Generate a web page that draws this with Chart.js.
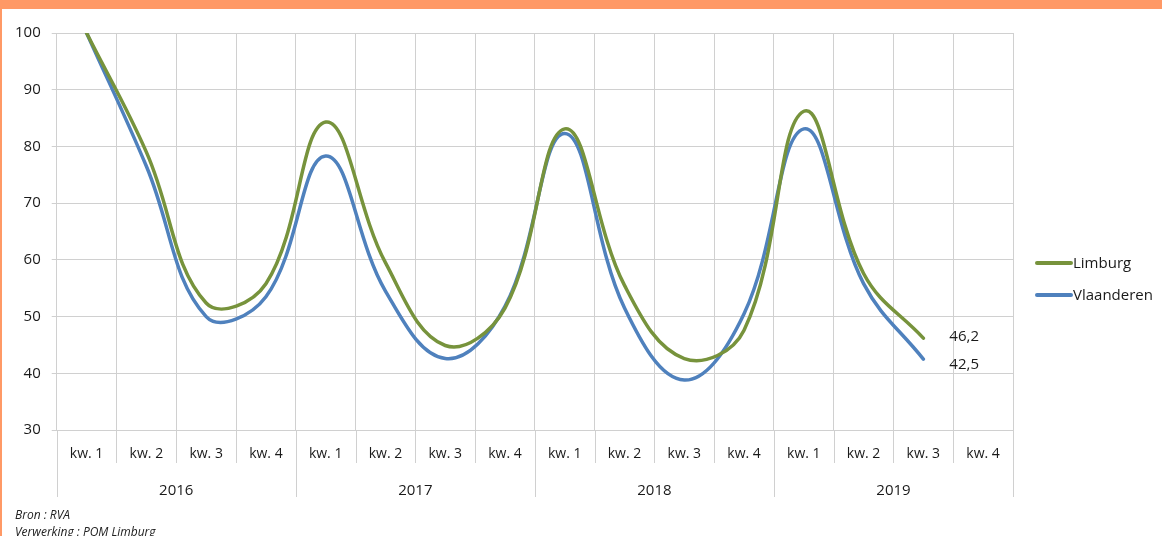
<!DOCTYPE html>
<html>
<head>
<meta charset="utf-8">
<script src="https://cdn.jsdelivr.net/npm/chart.js@4.4.1/dist/chart.umd.min.js"></script>
<style>
  html, body { margin: 0; padding: 0; background: #fff; }
  #frame {
    position: absolute; left: 0; top: 0; width: 1160px; height: 527px;
    border-top: 9px solid #ff9966; border-left: 2px solid #ff9966;
  }
  #wrap { position: absolute; left: 0; top: 0; width: 1160px; height: 527px; }
  .note {
    position: absolute; left: 13px; font-family: "Open Sans", sans-serif;
    font-style: italic; font-size: 12px; line-height: 16px; color: #222;
  }
</style>
</head>
<body>
<div id="frame">
  <div id="wrap"><canvas id="lineChart"></canvas></div>
  <div class="note" style="top:498px">Bron : RVA</div>
  <div class="note" style="top:515px">Verwerking : POM Limburg</div>
</div>
<script>
const quarters = ['kw. 1', 'kw. 2', 'kw. 3', 'kw. 4',
                  'kw. 1', 'kw. 2', 'kw. 3', 'kw. 4',
                  'kw. 1', 'kw. 2', 'kw. 3', 'kw. 4',
                  'kw. 1', 'kw. 2', 'kw. 3', 'kw. 4'];
const years = ['2016', '2017', '2018', '2019'];
const limburg = [100, 79, 52.4, 55.8, 84.3, 59.5, 44.9, 51.5, 83.1, 55.5, 42.6, 47.6, 86.2, 57.6, 46.2, null];
const vlaanderen = [100, 76.5, 50, 53.5, 78.3, 54.5, 42.6, 51.8, 82.3, 51.5, 38.8, 50.5, 83.1, 55.8, 42.5, null];

const textColor = '#1a1a1a';
const gridColor = '#d0d0d0';
const fontFamily = '"Open Sans", sans-serif';

// separators under the x axis (quarter boxes and year boxes)
const separators = {
    id: 'separators',
    afterDraw(chart) {
        const ctx = chart.ctx;
        const x = chart.scales.x;
        const x2 = chart.scales.x2;
        const step = x.getPixelForValue(1) - x.getPixelForValue(0);
        ctx.save();
        ctx.strokeStyle = gridColor;
        ctx.lineWidth = 1;
        for (let i = 0; i <= quarters.length; i++) {
            const px = Math.round(x.getPixelForValue(0) - step / 2 + i * step) + 0.5;
            ctx.beginPath();
            ctx.moveTo(px, chart.chartArea.bottom);
            ctx.lineTo(px, i % 4 === 0 ? x2.bottom : x.bottom);
            ctx.stroke();
        }
        ctx.restore();
    }
};

// value labels next to the last point + legend on the right
const extras = {
    id: 'extras',
    afterDatasetsDraw(chart) {
        const ctx = chart.ctx;
        ctx.save();
        ctx.font = '15px ' + fontFamily;
        ctx.fillStyle = textColor;
        ctx.textBaseline = 'middle';
        const offsets = [-1, 6];
        chart.data.datasets.forEach((ds, i) => {
            const meta = chart.getDatasetMeta(i);
            let last = ds.data.length - 1;
            while (ds.data[last] == null) last--;
            const pt = meta.data[last];
            ctx.fillText(String(ds.data[last]).replace('.', ','), pt.x + 26, pt.y + offsets[i]);
        });
        // legend
        const lx = chart.chartArea.right + 22;
        const ly = 254;
        chart.data.datasets.forEach((ds, i) => {
            const y = ly + i * 32;
            ctx.strokeStyle = ds.borderColor;
            ctx.lineWidth = 4;
            ctx.lineCap = 'round';
            ctx.beginPath();
            ctx.moveTo(lx + 2, y);
            ctx.lineTo(lx + 36, y);
            ctx.stroke();
            ctx.fillText(ds.label, lx + 38, y + 1);
        });
        ctx.restore();
    }
};

const ctx = document.getElementById('lineChart').getContext('2d');
const myChart = new Chart(ctx, {
    type: 'line',
    data: {
        labels: quarters,
        datasets: [{
            label: 'Limburg',
            data: limburg,
            borderColor: '#77933c',
            backgroundColor: '#77933c',
            borderWidth: 3.5,
            borderCapStyle: 'round',
            pointRadius: 0,
            tension: 0.4
        }, {
            label: 'Vlaanderen',
            data: vlaanderen,
            borderColor: '#4f81bd',
            backgroundColor: '#4f81bd',
            borderWidth: 3.5,
            borderCapStyle: 'round',
            pointRadius: 0,
            tension: 0.4
        }]
    },
    options: {
        responsive: true,
        maintainAspectRatio: false,
        animation: false,
        layout: { padding: { left: 2, right: 149, top: 24, bottom: 39 } },
        plugins: {
            legend: { display: false },
            tooltip: { enabled: false }
        },
        scales: {
            y: {
                min: 30,
                max: 100,
                ticks: { stepSize: 10, padding: 11, color: textColor, font: { family: fontFamily, size: 15 } },
                grid: { color: gridColor, tickLength: 5 },
                border: { display: false }
            },
            x: {
                offset: true,
                grid: { offset: true, color: gridColor, drawTicks: false },
                border: { display: false },
                ticks: { padding: 16, maxRotation: 0, autoSkip: false, color: textColor, font: { family: fontFamily, size: 14 } },
                afterFit: s => { s.height = 33; }
            },
            x2: {
                type: 'category',
                labels: years,
                position: 'bottom',
                offset: true,
                grid: { display: false },
                border: { display: false },
                ticks: { padding: 11, color: textColor, font: { family: fontFamily, size: 15 } },
                afterFit: s => { s.height = 34; }
            }
        }
    },
    plugins: [separators, extras]
});
</script>
</body>
</html>
